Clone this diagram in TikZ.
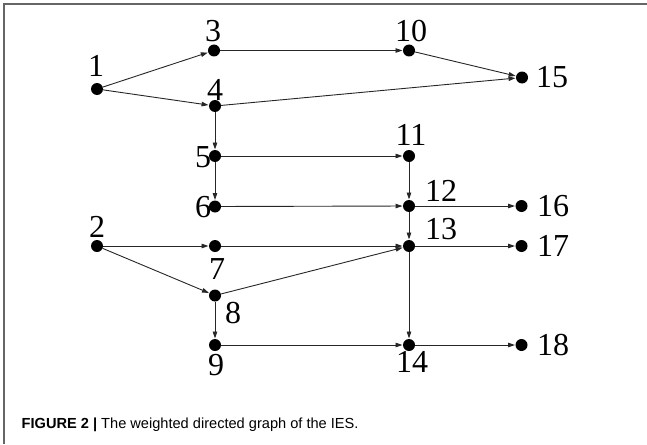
\documentclass[tikz,border=0pt]{standalone}
\usepackage{fontspec}
\setmainfont{Liberation Serif}
\newfontfamily\capfont{Liberation Sans}
\usetikzlibrary{arrows.meta}
\begin{document}
\begin{tikzpicture}[x=1pt,y=-1pt,
  vtx/.style={circle,fill=black,inner sep=0pt,minimum size=12pt},
  lbl/.style={inner sep=0pt,font=\fontsize{32}{32}\selectfont},
  edge/.style={draw=black!85,line width=0.9pt,-{Triangle[length=7pt,width=4.5pt]},shorten >=0.3pt}]
\useasboundingbox (0,0) rectangle (647,444);
\draw[black!60,line width=1.6pt] (647,4) -- (4,4) -- (4,444);
% vertices
\node[vtx] (n1) at (97,89) {};
\node[vtx] (n2) at (97,246) {};
\node[vtx] (n3) at (214,50.5) {};
\node[vtx] (n4) at (215,106) {};
\node[vtx] (n5) at (215,156) {};
\node[vtx] (n6) at (215,206.5) {};
\node[vtx] (n7) at (215,246) {};
\node[vtx] (n8) at (215,295.5) {};
\node[vtx] (n9) at (215,345) {};
\node[vtx] (n10) at (409,50.5) {};
\node[vtx] (n11) at (409,156) {};
\node[vtx] (n12) at (409,206) {};
\node[vtx] (n13) at (409,246) {};
\node[vtx] (n14) at (409,345) {};
\node[vtx] (n15) at (522,77.5) {};
\node[vtx] (n16) at (521.5,206) {};
\node[vtx] (n17) at (521.5,246) {};
\node[vtx] (n18) at (521.5,345) {};
% labels
\node[lbl] (l1) at (96,66) {1};
\node[lbl] (l2) at (97,227) {2};
\node[lbl] (l3) at (213,31) {3};
\node[lbl] (l4) at (215,90) {4};
\node[lbl] (l5) at (203,157) {5};
\node[lbl] (l6) at (203,207) {6};
\node[lbl] (l7) at (217,269) {7};
\node[lbl] (l8) at (233,313) {8};
\node[lbl] (l9) at (216,365) {9};
\node[lbl] (l10) at (411,31) {10};
\node[lbl] (l11) at (411,135) {11};
\node[lbl] (l12) at (441,191) {12};
\node[lbl] (l13) at (441,229) {13};
\node[lbl] (l14) at (412,362) {14};
\node[lbl] (l15) at (552,77) {15};
\node[lbl] (l16) at (553,206) {16};
\node[lbl] (l17) at (553,246) {17};
\node[lbl] (l18) at (553,345) {18};
% edges
\foreach \a/\b in {n1/n3,n1/n4,n3/n10,n10/n15,n4/n15,n4/n5,n5/n11,n5/n6,n11/n12,n6/n12,n12/n16,n12/n13,n2/n7,n2/n8,n7/n13,n8/n13,n8/n9,n13/n17,n13/n14,n9/n14,n14/n18}
  \draw[edge] (\a) -- (\b);
% caption
\node[anchor=base west,inner sep=0pt,font=\capfont\fontsize{14.6}{15}\selectfont] (cap) at (21.5,428)
  {\textbf{FIGURE 2 |} The weighted directed graph of the IES.};
\end{tikzpicture}
\end{document}
